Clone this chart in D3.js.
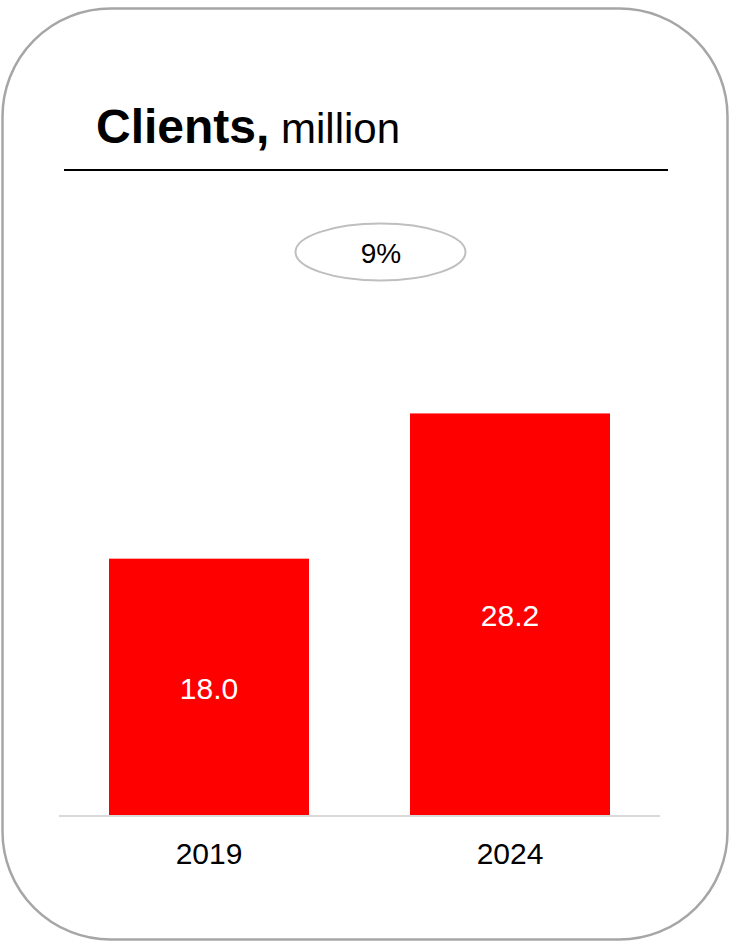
<!DOCTYPE html>
<html>
<head>
<meta charset="utf-8">
<script src="https://cdn.jsdelivr.net/npm/d3@7"></script>
<style>
  html, body { margin: 0; padding: 0; background: #fff; }
  svg { display: block; font-family: "Liberation Sans", Arial, sans-serif; }
</style>
</head>
<body>
<script>
const categories = ["2019", "2024"];
const values = [18.0, 28.2];
const valueLabels = ["18.0", "28.2"];
const growthLabel = "9%";
const titleBold = "Clients,";
const titleRest = " million";

const W = 730, H = 943;
const svg = d3.select("body").append("svg").attr("width", W).attr("height", H);

// outer rounded frame
svg.append("rect")
  .attr("x", 2.5).attr("y", 8.5).attr("width", 725).attr("height", 931)
  .attr("rx", 108).attr("ry", 108)
  .attr("fill", "#fff").attr("stroke", "#a6a6a6").attr("stroke-width", 2.5);

// title
const t = svg.append("text").attr("x", 96).attr("y", 143).attr("fill", "#000");
t.append("tspan").attr("font-weight", "bold").attr("font-size", 48).text(titleBold);
t.append("tspan").attr("font-size", 42).text(titleRest);

svg.append("line").attr("x1", 64).attr("x2", 668).attr("y1", 170).attr("y2", 170)
  .attr("stroke", "#000").attr("stroke-width", 2);

// scales
const x = d3.scaleBand().domain(categories).range([59, 660])
  .paddingInner(101 / 301).paddingOuter(50 / 301);
const y = d3.scaleLinear().domain([0, 30]).range([815, 815 - 30 * 14.24]);

// bars
svg.selectAll("rect.bar").data(values).enter().append("rect")
  .attr("class", "bar")
  .attr("x", (d, i) => x(categories[i]))
  .attr("width", x.bandwidth())
  .attr("y", d => y(d))
  .attr("height", d => y(0) - y(d))
  .attr("fill", "#ff0000");

// value labels
svg.selectAll("text.val").data(values).enter().append("text")
  .attr("class", "val")
  .attr("x", (d, i) => x(categories[i]) + x.bandwidth() / 2)
  .attr("y", d => (y(d) + y(0)) / 2 + 12)
  .attr("text-anchor", "middle").attr("fill", "#fff").attr("font-size", 30)
  .text((d, i) => valueLabels[i]);

// baseline axis
const axis = svg.append("g").attr("transform", `translate(0,${y(0) + 1})`)
  .call(d3.axisBottom(x).tickSize(0).tickPadding(27));
axis.select(".domain").attr("stroke", "#d9d9d9").attr("stroke-width", 2)
  .attr("d", "M59,0H660");
axis.selectAll(".tick text").attr("font-size", 30).attr("fill", "#000")
  .attr("font-family", "Liberation Sans, Arial, sans-serif");

// growth ellipse
svg.append("ellipse").attr("cx", 380.5).attr("cy", 252).attr("rx", 85).attr("ry", 28.5)
  .attr("fill", "#fff").attr("stroke", "#bfbfbf").attr("stroke-width", 2);
svg.append("text").attr("x", 381).attr("y", 263).attr("text-anchor", "middle")
  .attr("font-size", 28).attr("fill", "#000").text(growthLabel);
</script>
</body>
</html>
